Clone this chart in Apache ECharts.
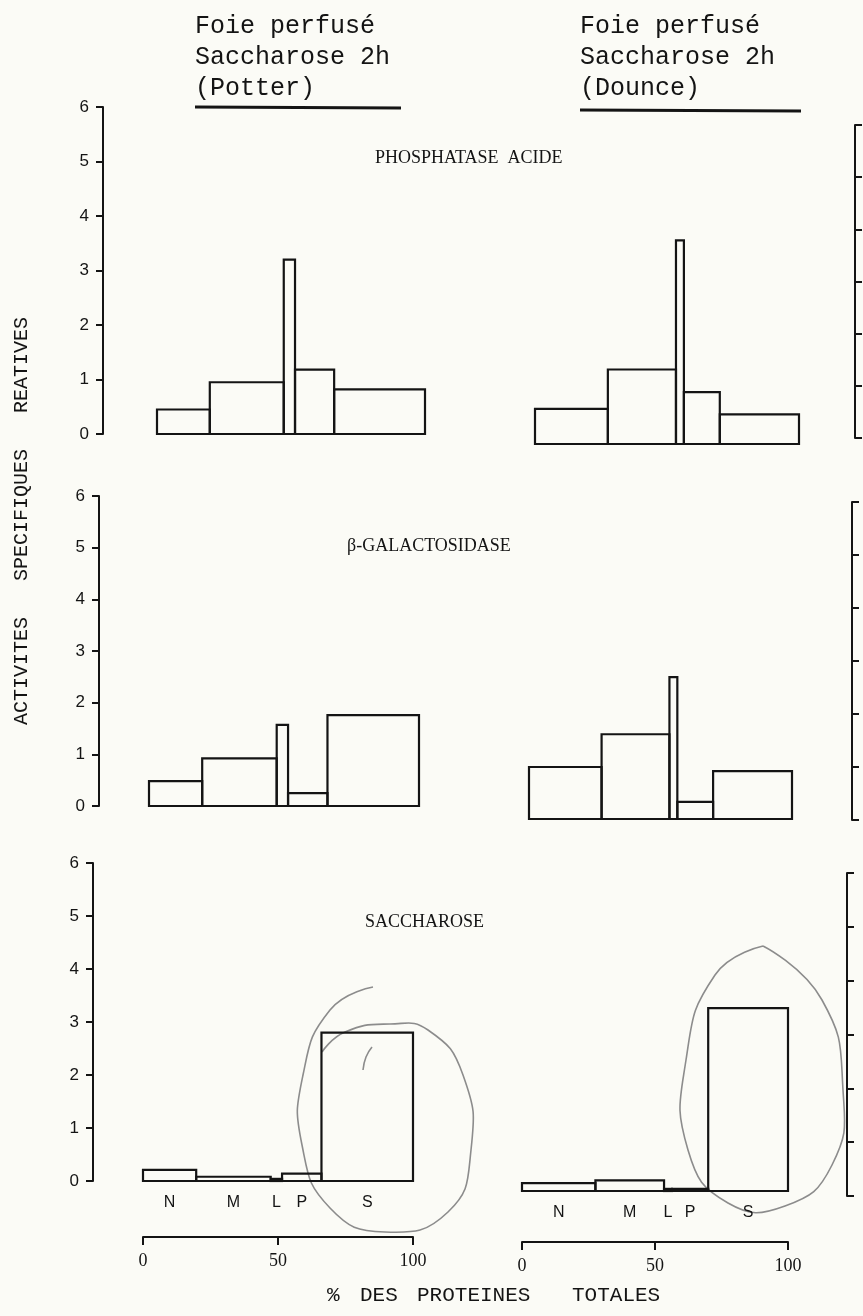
<!DOCTYPE html>
<html>
<head>
<meta charset="utf-8">
<script src="https://cdn.jsdelivr.net/npm/echarts@6/dist/echarts.min.js"></script>
<style>
html,body{margin:0;padding:0;background:#fbfbf6;}
#c{width:863px;height:1316px;}
</style>
</head>
<body>
<div id="c"></div>
<script>
// ---- data ----
const fractions = ['N', 'M', 'L', 'P', 'S'];
// % of total proteins in each fraction (bar widths)
const proteinPctPotter = [19.7, 27.6, 4.2, 14.6, 33.9];
const proteinPctDounce = [27.6, 25.8, 3.0, 13.6, 30.0];
// relative specific activities (bar heights)
const phosphatasePotter = [0.45, 0.95, 3.2, 1.18, 0.82];
const phosphataseDounce = [0.65, 1.38, 3.77, 0.96, 0.55];
const galactosidasePotter = [0.48, 0.92, 1.57, 0.25, 1.76];
const galactosidaseDounce = [1.0, 1.63, 2.73, 0.33, 0.92];
const saccharosePotter = [0.21, 0.08, 0.04, 0.14, 2.8];
const saccharoseDounce = [0.15, 0.2, 0.04, 0.04, 3.45];
const yTickMax = 6;
const xTickStep = 50;
const panelTitles = ['PHOSPHATASE  ACIDE', 'β-GALACTOSIDASE', 'SACCHAROSE'];
const headerPotter = ['Foie perfusé', 'Saccharose 2h', '(Potter)'];
const headerDounce = ['Foie perfusé', 'Saccharose 2h', '(Dounce)'];
const yTitle = 'ACTIVITES   SPECIFIQUES   REATIVES';
const xTitleWords = ['%', 'DES', 'PROTEINES', 'TOTALES'];

function toBars(widths, values) {
  let acc = 0;
  return values.map((v, i) => { const x0 = acc; acc += widths[i]; return [x0, acc, v]; });
}

const INK = '#141414';
const MONO = '"Liberation Mono", "DejaVu Sans Mono", monospace';
const SERIF = '"Liberation Serif", "DejaVu Serif", serif';
const SANS = '"Liberation Sans", "DejaVu Sans", sans-serif';

// layout of the panels (scan is slightly skewed, so each panel has its own box)
const grids = [
  {left: 157, top: 107, width: 268, height: 327},  // 0 Potter phosphatase
  {left: 535, top: 120, width: 264, height: 324},  // 1 Dounce phosphatase
  {left: 149, top: 496, width: 270, height: 310},  // 2 Potter galactosidase
  {left: 529, top: 507, width: 263, height: 312},  // 3 Dounce galactosidase
  {left: 143, top: 863, width: 270, height: 318},  // 4 Potter saccharose
  {left: 522, top: 873, width: 266, height: 318},  // 5 Dounce saccharose
  {left: 855, top: 125, width: 60, height: 313},   // 6 third column (cut) row 1
  {left: 852, top: 502, width: 60, height: 318},   // 7 third column row 2
  {left: 847, top: 873, width: 60, height: 323}    // 8 third column row 3
];
const yOffsets = [54, 0, 50, 0, 50, 0, 0, 0, 0];
const bottomRow = {4: 56, 5: 51};

const xAxes = grids.map((g, i) => {
  const isBottom = bottomRow[i] !== undefined;
  return {
    gridIndex: i, type: 'value', min: 0, max: 100, interval: xTickStep,
    show: isBottom,
    offset: isBottom ? bottomRow[i] : 0,
    axisLine: {show: true, onZero: false, lineStyle: {color: INK, width: 2}},
    axisTick: {show: true, length: 8, lineStyle: {color: INK, width: 2}},
    axisLabel: {show: true, margin: 15, color: INK, fontFamily: SERIF, fontSize: 18},
    splitLine: {show: false}
  };
});

const yAxes = grids.map((g, i) => {
  const leftCol = (i === 0 || i === 2 || i === 4);
  const thirdCol = i >= 6;
  return {
    gridIndex: i, type: 'value', min: 0, max: yTickMax, interval: 1,
    show: leftCol || thirdCol,
    offset: yOffsets[i],
    axisLine: {show: true, onZero: false, lineStyle: {color: INK, width: 2}},
    axisTick: {show: true, inside: thirdCol, length: 7, lineStyle: {color: INK, width: 2}},
    axisLabel: {show: leftCol, margin: 14, color: INK, fontFamily: SANS, fontSize: 17},
    splitLine: {show: false}
  };
});

function makeRender(showLabels) {
  return function (params, api) {
    const p0 = api.coord([api.value(0), 0]);
    const p1 = api.coord([api.value(1), api.value(2)]);
    const children = [{
      type: 'rect',
      shape: {x: p0[0], y: p1[1], width: p1[0] - p0[0], height: p0[1] - p1[1]},
      style: {fill: 'transparent', stroke: INK, lineWidth: 2.2}
    }];
    if (showLabels) {
      children.push({
        type: 'text',
        style: {
          text: fractions[params.dataIndex],
          x: (p0[0] + p1[0]) / 2, y: p0[1] + 22,
          textAlign: 'center', textVerticalAlign: 'middle',
          font: '16px ' + SANS, fill: INK
        }
      });
    }
    return {type: 'group', children: children};
  };
}

const panelData = [
  [proteinPctPotter, phosphatasePotter],
  [proteinPctDounce, phosphataseDounce],
  [proteinPctPotter, galactosidasePotter],
  [proteinPctDounce, galactosidaseDounce],
  [proteinPctPotter, saccharosePotter],
  [proteinPctDounce, saccharoseDounce]
];

const series = panelData.map((pd, i) => ({
  type: 'custom',
  xAxisIndex: i, yAxisIndex: i,
  renderItem: makeRender(i >= 4),
  data: toBars(pd[0], pd[1]),
  encode: {x: [0, 1], y: 2},
  silent: true,
  clip: false
}));

function txt(text, x, y, font, align, extra) {
  return Object.assign({
    type: 'text', silent: true, x: x, y: y,
    style: {text: text, x: 0, y: 0, font: font, fill: INK, textAlign: align || 'left', textVerticalAlign: 'middle'}
  }, extra || {});
}

const graphics = [];
headerPotter.forEach((t, k) => graphics.push(txt(t, 195, 26 + k * 31, '25px ' + MONO)));
headerDounce.forEach((t, k) => graphics.push(txt(t, 580, 26 + k * 31, '25px ' + MONO)));
graphics.push({type: 'line', silent: true, shape: {x1: 195, y1: 107, x2: 401, y2: 108}, style: {stroke: INK, lineWidth: 3}});
graphics.push({type: 'line', silent: true, shape: {x1: 580, y1: 110, x2: 801, y2: 111}, style: {stroke: INK, lineWidth: 3}});
graphics.push(txt(panelTitles[0], 375, 158, '18px ' + SERIF));
graphics.push(txt(panelTitles[1], 347, 546, '18px ' + SERIF));
graphics.push(txt(panelTitles[2], 365, 922, '18px ' + SERIF));
graphics.push(txt(yTitle, 22, 521, '20px ' + MONO, 'center', {rotation: Math.PI / 2}));
const xTitleX = [327, 360, 417, 572];
xTitleWords.forEach((w, k) => graphics.push(txt(w, xTitleX[k], 1295, '21px ' + MONO)));
// pencil marks around the soluble (S) fractions
const pencil = {stroke: '#8c8c8c', lineWidth: 1.6, fill: null};
graphics.push({type: 'polyline', silent: true,
  shape: {smooth: 0.5, points: [[373, 987], [330, 1010], [303, 1075], [302, 1145], [330, 1208], [385, 1232], [448, 1212], [471, 1150], [463, 1075], [428, 1030], [390, 1024], [345, 1032], [322, 1052]]},
  style: pencil});
graphics.push({type: 'polyline', silent: true,
  shape: {smooth: 0.5, points: [[372, 1047], [366, 1057], [363, 1070]]},
  style: pencil});
graphics.push({type: 'polyline', silent: true,
  shape: {smooth: 0.5, points: [[763, 946], [715, 975], [686, 1060], [688, 1150], [728, 1203], [785, 1206], [832, 1165], [843, 1090], [822, 1000], [763, 946]]},
  style: pencil});

const chart = echarts.init(document.getElementById('c'), null, {renderer: 'canvas'});
chart.setOption({
  backgroundColor: '#fbfbf6',
  animation: false,
  grid: grids,
  xAxis: xAxes,
  yAxis: yAxes,
  series: series,
  graphic: graphics
});
</script>
</body>
</html>
